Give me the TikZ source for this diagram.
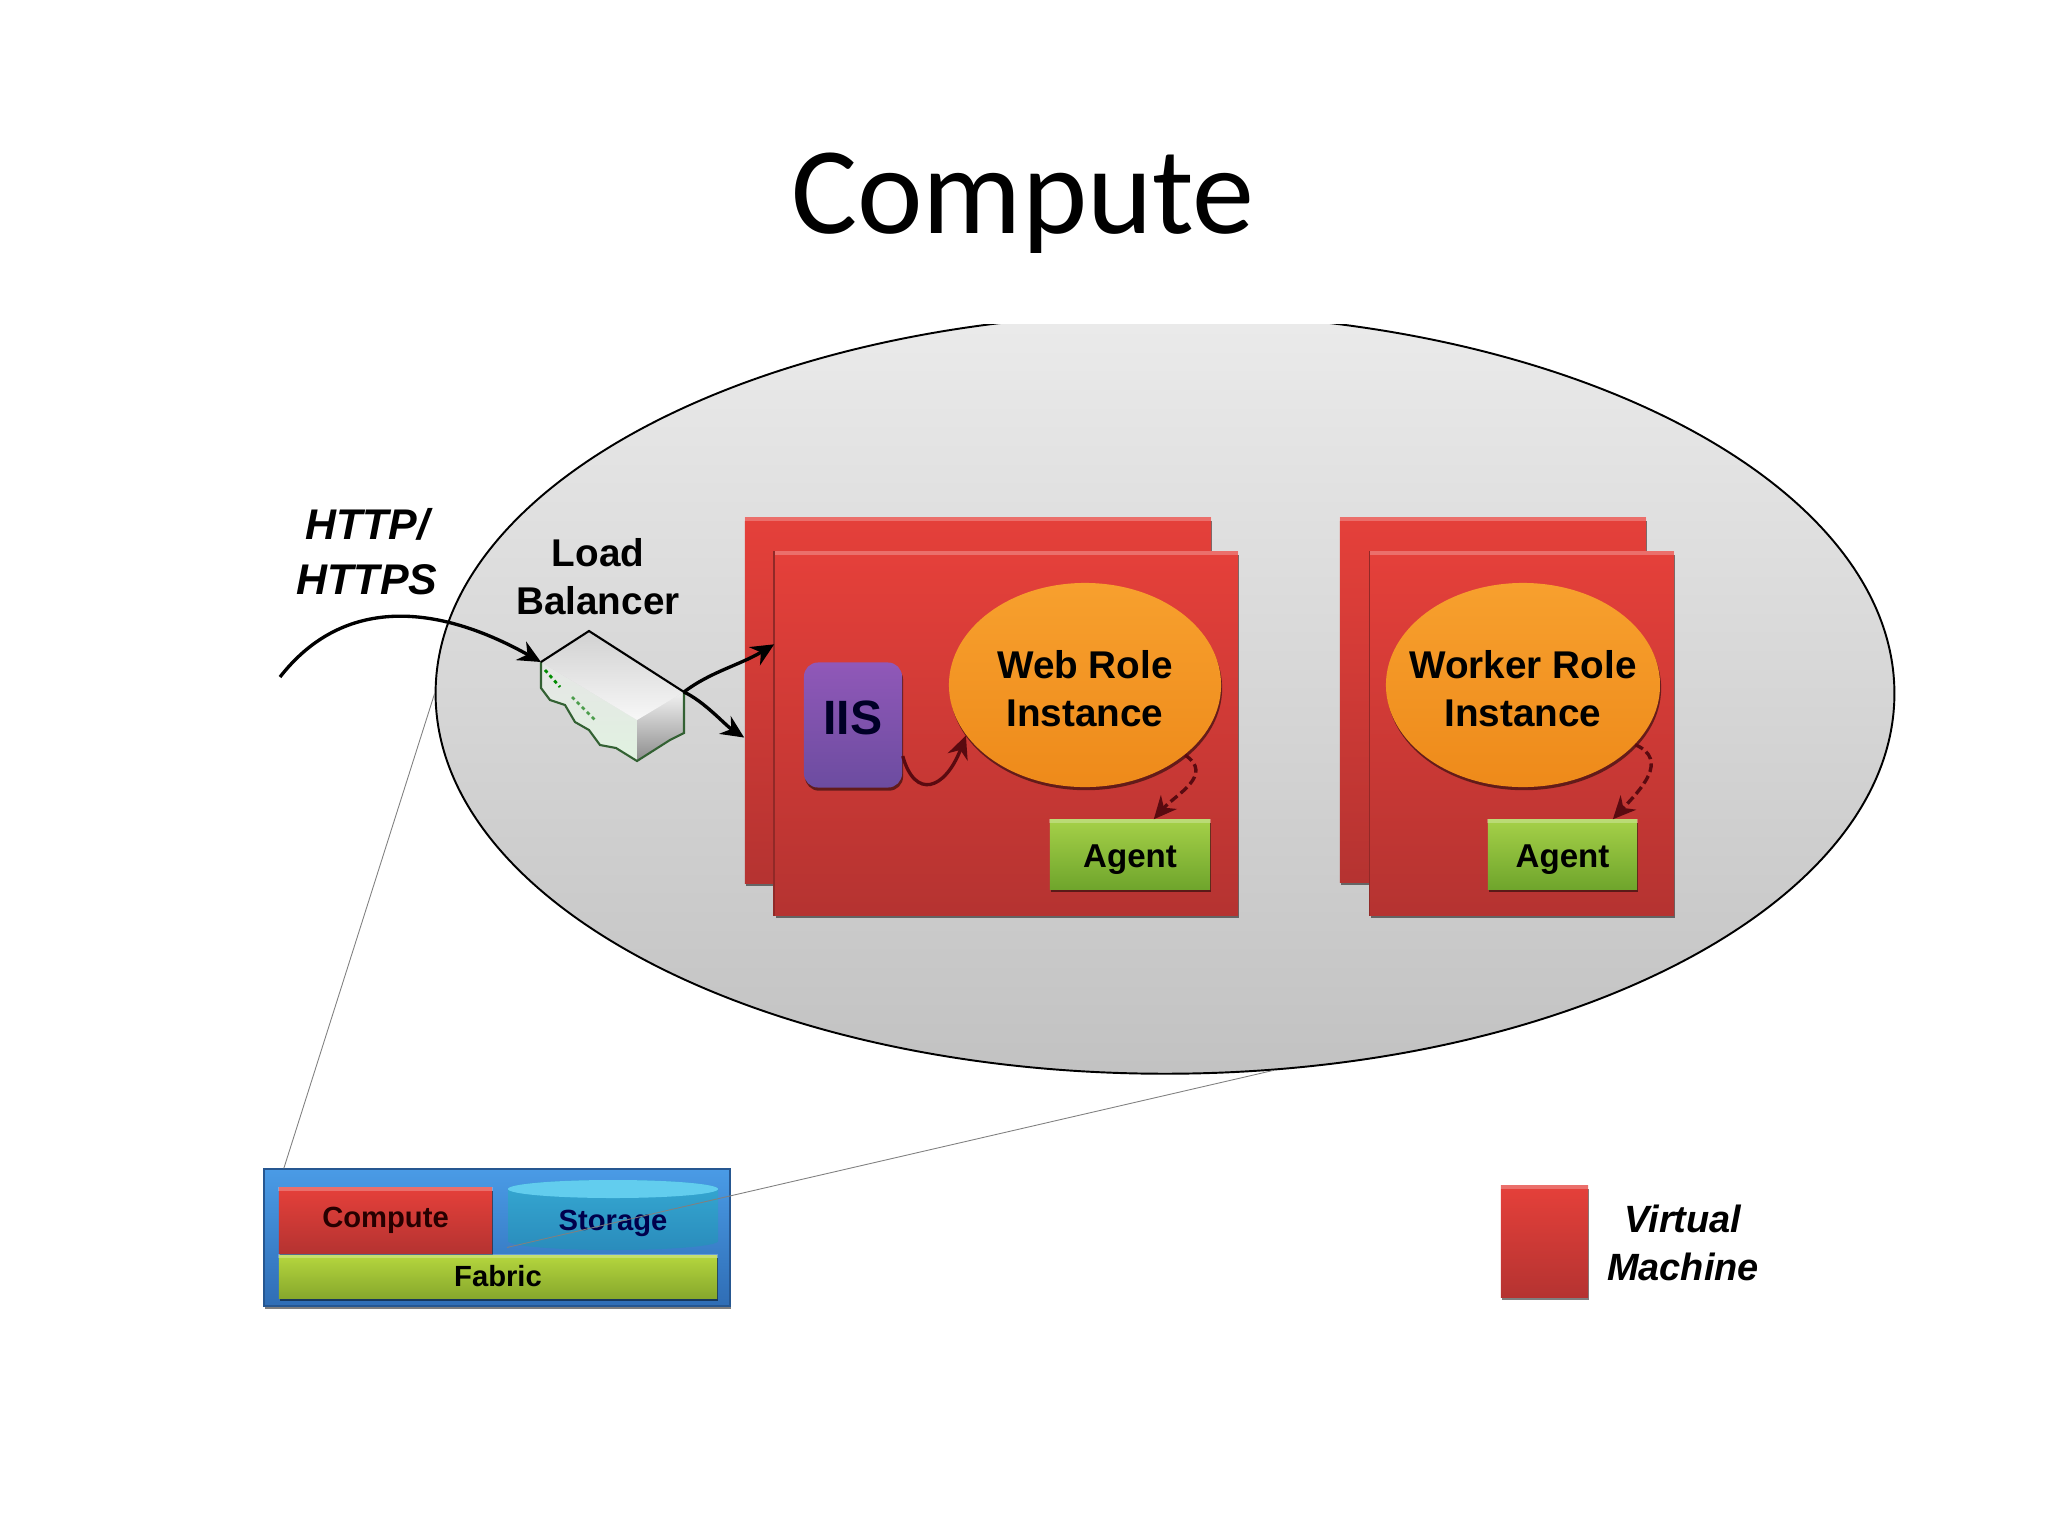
\documentclass[tikz,border=0pt]{standalone}
\usepackage{fontspec}
\setmainfont{Liberation Sans}
\newfontfamily\titlefont{Carlito}
\usetikzlibrary{arrows.meta,shapes.geometric,shadows}

\definecolor{vmtop}{HTML}{E5403A}
\definecolor{vmbot}{HTML}{B53331}
\definecolor{roletop}{HTML}{F7A02E}
\definecolor{rolebot}{HTML}{EE8A1A}
\definecolor{agenttop}{HTML}{A5D048}
\definecolor{agentbot}{HTML}{6FA52C}
\definecolor{iistop}{HTML}{9058B8}
\definecolor{iisbot}{HTML}{6C4CA0}
\definecolor{fabrictop}{HTML}{B5D63E}
\definecolor{fabricbot}{HTML}{87A82C}
\definecolor{stacktop}{HTML}{4A9BE6}
\definecolor{stackbot}{HTML}{2F6DB5}
\definecolor{storetop}{HTML}{35A8D2}
\definecolor{storebot}{HTML}{2A8CBC}
\definecolor{storelid}{HTML}{62CDEE}
\definecolor{arrowred}{HTML}{5A0A10}

\tikzset{
	shadowed/.style={drop shadow={shadow xshift=0.3pt,shadow yshift=-0.9pt,opacity=0.5,fill=black}},
	vmbox/.style={rectangle,inner sep=0pt,top color=vmtop,bottom color=vmbot,shadowed},
	rolenode/.style={ellipse,inner sep=0pt,top color=roletop,bottom color=rolebot,shadowed},
	rolelabel/.style={align=center,yshift=-1.1pt,font=\fontsize{11}{13.7}\selectfont\bfseries},
	agentnode/.style={rectangle,inner sep=0pt,top color=agenttop,bottom color=agentbot,shadowed,minimum height=0.69cm},
	agentlabel/.style={yshift=-1.5pt,font=\fontsize{9.4}{11}\selectfont\bfseries},
	smalltext/.style={font=\fontsize{8.3}{10}\selectfont\bfseries},
	flow/.style={-{Stealth[length=6.5pt,width=6pt]},line width=0.95pt,black},
	thinline/.style={line width=0.25pt,gray},
	edgelight/.style={line width=1pt,white,opacity=0.25}
}

\begin{document}
\begin{tikzpicture}[x=0.01cm,y=-0.01cm]
	\useasboundingbox (0,0) rectangle (2048,1536);
	\node (title) at (1023,203) {\fontsize{35.3}{40}\selectfont\titlefont Compute};

	% big oval, cut off at the top
	\begin{scope}
		\clip (0,324) rectangle (2048,1536);
		\node[ellipse,draw=black,line width=0.55pt,inner sep=0pt,minimum width=14.58cm,minimum height=7.6cm,
			top color=black!8,bottom color=black!24] (cloud) at (1165,693.5) {};
	\end{scope}

	% zoom lines and the small stack
	\node[rectangle,inner sep=0pt,minimum width=4.66cm,minimum height=1.37cm,top color=stacktop,bottom color=stackbot,
		draw=stackbot!80!black,shadowed] (stack) at (497,1237.5) {};
	\node[rectangle,inner sep=0pt,minimum width=2.13cm,minimum height=0.65cm,top color=vmtop,bottom color=vmbot,shadowed,
		smalltext,text=black!85!red] (computebox) at (385.5,1220.5) {Compute};
	\shade[top color=storetop,bottom color=storebot] (508,1189) -- (508,1241)
		arc[start angle=180,end angle=360,x radius=1.05cm,y radius=0.09cm] -- (718,1189)
		arc[start angle=0,end angle=180,x radius=1.05cm,y radius=0.09cm] -- cycle;
	\fill[storelid] (613,1189) ellipse [x radius=1.05cm,y radius=0.09cm];
	\node[rectangle,inner sep=0pt,minimum width=2.1cm,minimum height=0.7cm,smalltext,text=black!70!blue] (storage) at (613,1223) {Storage};
	\node[rectangle,inner sep=0pt,minimum width=4.38cm,minimum height=0.43cm,top color=fabrictop,bottom color=fabricbot,shadowed,
		smalltext] (fabric) at (498,1276.5) {Fabric};
	\draw[thinline] (stack.162.5) -- (cloud.west);
	\draw[thinline] (storage.193) -- (cloud.-74.4);

	% virtual machines
	\node[vmbox,minimum width=4.66cm,minimum height=3.65cm] (webback) at (978,700.5) {};
	\node[vmbox,minimum width=4.63cm,minimum height=3.63cm] (webfront) at (1006.5,733.5) {};
	\node[vmbox,minimum width=3.06cm,minimum height=3.64cm] (workerback) at (1493,700) {};
	\node[vmbox,minimum width=3.04cm,minimum height=3.63cm] (workerfront) at (1522,733.5) {};

	\node[rolenode,minimum width=2.72cm,minimum height=2.04cm,label={[rolelabel]center:{Web Role\\Instance}}] (webrole) at (1085,685) {};
	\node[rolenode,minimum width=2.74cm,minimum height=2.04cm,label={[rolelabel]center:{Worker Role\\Instance}}] (workerrole) at (1523,685) {};
	\node[rectangle,rounded corners=4pt,inner sep=0pt,minimum width=0.98cm,minimum height=1.25cm,top color=iistop,bottom color=iisbot,
		shadowed,font=\fontsize{13.7}{15}\selectfont\bfseries,text=black!85!blue] (iis) at (853,725) {\raisebox{4.4pt}{IIS}};
	\node[agentnode,minimum width=1.6cm,label={[agentlabel]center:Agent}] (webagent) at (1130,854.5) {};
	\node[agentnode,minimum width=1.49cm,label={[agentlabel]center:Agent}] (workeragent) at (1562.5,854.5) {};

	% load balancer
	\coordinate (lbtop) at (589,631);
	\coordinate (lbleft) at (541,662);
	\coordinate (lbright) at (684,692);
	\coordinate (lbfront) at (637,720);
	\coordinate (lbbottom) at (637,761);
	\shade[top color=black!10,bottom color=black!42!green!12!white] (lbleft) -- (lbfront) -- (lbbottom) -- (616,748) -- (600,745) -- (589,730) -- (575,722) -- (565,705) -- (550,700) -- (541,688) -- cycle;
	\shade[top color=black!5,bottom color=black!45] (lbfront) -- (lbright) -- (684,733) -- (670,740) -- (lbbottom) -- cycle;
	\shade[top color=black!18,bottom color=black!3] (lbtop) -- (lbright) -- (lbfront) -- (lbleft) -- cycle;
	\draw[black!70!green!60!gray,line width=0.6pt] (lbleft) -- (541,688) -- (550,700) -- (565,705) -- (575,722) -- (589,730) -- (600,745) -- (616,748) -- (lbbottom) -- (670,740) -- (684,733) -- (lbright);
	\draw[black,line width=0.6pt] (lbleft) -- (lbtop) -- (lbright);
	\draw[green!55!black,line width=0.8pt,dash pattern=on 1pt off 1pt] (545,670) -- (560,687);
	\draw[green!45!black!70,line width=0.8pt,dash pattern=on 1pt off 1pt] (572,697) -- (595,720);

	% labels
	\node[align=center,font=\fontsize{12.2}{15.6}\selectfont\bfseries\itshape] (http) at (367,552) {HTTP/\\HTTPS};
	\node[align=center,font=\fontsize{11}{13.7}\selectfont\bfseries] (lblabel) at (598,577) {Load\\Balancer};
	\node[vmbox,minimum width=0.87cm,minimum height=1.11cm] (legendvm) at (1544.5,1241.5) {};
	\node[align=center,font=\fontsize{10.8}{13.7}\selectfont\bfseries\itshape] (legendtext) at (1683,1243) {Virtual\\Machine};

	% soft light along the top of the boxes
	\foreach \boxname in {webback,webfront,workerback,workerfront,legendvm,webagent,workeragent,computebox,fabric}
		\draw[edgelight] ([yshift=-0.5pt]\boxname.north west) -- ([yshift=-0.5pt]\boxname.north east);
	\foreach \boxname in {webfront,workerfront}
		\draw[vmbot!80!black,line width=0.4pt] (\boxname.north west) -- (\boxname.south west);

	% arrows
	\coordinate (httpstart) at (280,677);
	\draw[flow] (httpstart) .. controls (340,600) and (430,600) .. (lbleft);
	\draw[flow] (lbright) .. controls (710,672) and (740,665) .. (webfront.159.6);
	\draw[flow] (lbright) .. controls (705,702) and (725,725) .. (webback.189.1);
	\draw[flow,arrowred] (iis.-32) .. controls (915,800) and (945,790) .. (webrole.203.6);
	\draw[flow,arrowred,dash pattern=on 2.5pt off 1.2pt] (webrole.-35) .. controls (1215,775) and (1175,795) .. (webagent.56);
	\draw[flow,arrowred,dash pattern=on 2.5pt off 1.2pt] (workerrole.-28) .. controls (1670,760) and (1640,790) .. (workeragent.35);
\end{tikzpicture}
\end{document}
